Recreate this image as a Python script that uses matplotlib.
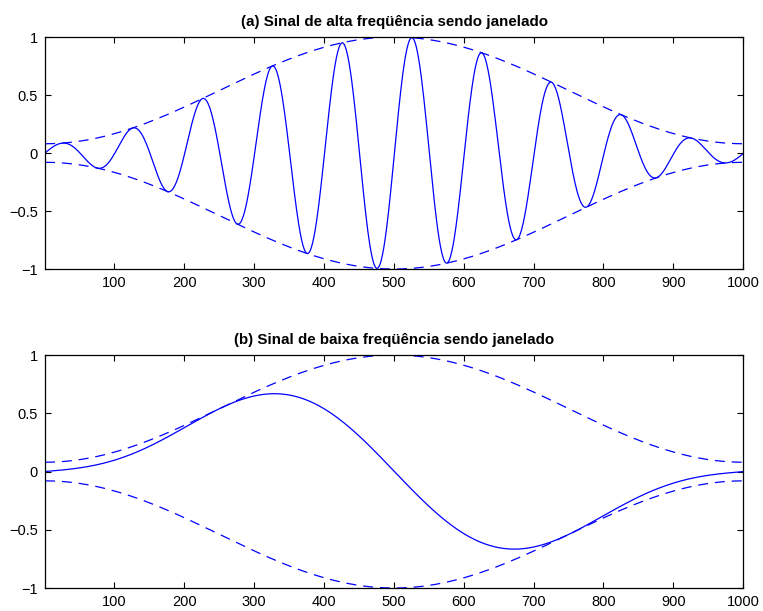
import numpy as np
import matplotlib
matplotlib.use("Agg")
import matplotlib.pyplot as plt

# Data parameters (signals are analytic: Hamming window times sinusoid)
n_samples = 1000
high_freq_period = 100      # samples per cycle, panel (a)
low_freq_period = 1000      # samples per cycle, panel (b)
titles = ["(a) Sinal de alta freqüência sendo janelado",
          "(b) Sinal de baixa freqüência sendo janelado"]
xticks = [100, 200, 300, 400, 500, 600, 700, 800, 900, 1000]
yticks = [-1, -0.5, 0, 0.5, 1]
yticklabels = ["\u22121", "\u22120.5", "0", "0.5", "1"]

k = np.arange(n_samples)
x = k + 1
window = 0.54 - 0.46 * np.cos(2 * np.pi * k / (n_samples - 1))
sig_a = window * np.sin(2 * np.pi * k / high_freq_period)
sig_b = window * np.sin(2 * np.pi * k / low_freq_period)

plt.rcParams['font.family'] = ['Liberation Sans', 'DejaVu Sans']
fig = plt.figure(figsize=(7.63, 6.11), dpi=100)
positions = [[0.059, 0.5597, 0.915, 0.3797], [0.059, 0.0376, 0.915, 0.3813]]
for pos, sig, title in zip(positions, [sig_a, sig_b], titles):
    ax = fig.add_axes(pos)
    ax.plot(x, sig, color='#0000ff', lw=0.9)
    ax.plot(x, window, color='#0000ff', lw=0.9, ls=(0, (8, 5.5)))
    ax.plot(x, -window, color='#0000ff', lw=0.9, ls=(0, (8, 5.5)))
    ax.set_xlim(1, 1000)
    ax.set_ylim(-1, 1)
    ax.set_xticks(xticks)
    ax.set_yticks(yticks)
    ax.set_yticklabels(yticklabels)
    ax.tick_params(direction='in', top=True, right=True, length=4, width=0.8,
                   labelsize=10.5, pad=5)
    for s in ax.spines.values():
        s.set_linewidth(0.9)
    ax.set_title(title, fontsize=10.9, fontweight='bold', pad=8)

fig.savefig("out.png", dpi=100)
